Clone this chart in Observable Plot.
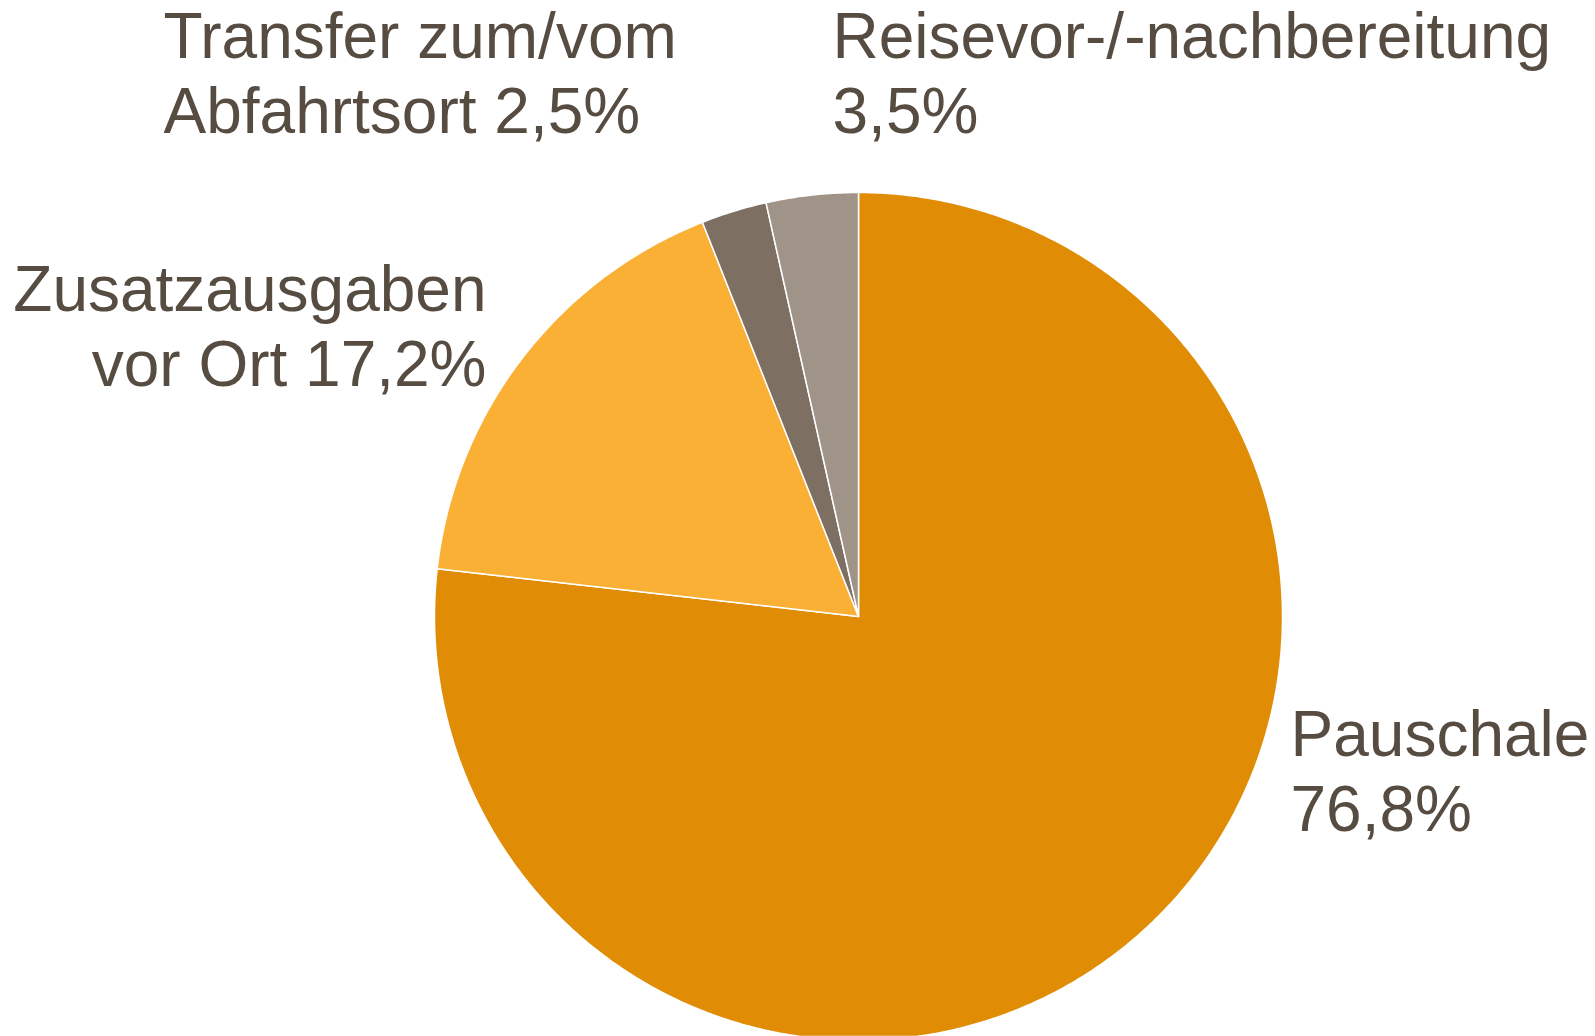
<!DOCTYPE html>
<html>
<head>
<meta charset="utf-8">
<script src="https://cdn.jsdelivr.net/npm/d3@7"></script>
<script src="https://cdn.jsdelivr.net/npm/@observablehq/plot@0.6"></script>
<style>
  html, body { margin: 0; padding: 0; background: #ffffff; }
  #chart svg { display: block; }
</style>
</head>
<body>
<div id="chart"></div>
<script>
// ---- Data ----
const categories = ["Pauschale", "Zusatzausgaben vor Ort", "Transfer zum/vom Abfahrtsort", "Reisevor-/-nachbereitung"];
const shares = [76.8, 17.2, 2.5, 3.5];
const labelTexts = ["Pauschale\n76,8%", "Zusatzausgaben\nvor Ort 17,2%", "Transfer zum/vom\nAbfahrtsort 2,5%", "Reisevor-/-nachbereitung\n3,5%"];
const colors = ["#E08C05", "#FAAF35", "#7D6F62", "#A09488"];

// ---- Layout (pixels) ----
const W = 1595, H = 1036;
const cx = 858, cy = 616, R = 424;
const labelLayout = [
  {x: 1290, y: 702, anchor: "start"},
  {x: 486, y: 257, anchor: "end"},
  {x: 163, y: 4, anchor: "start"},
  {x: 832, y: 4, anchor: "start"}
];

const data = categories.map((c, i) => ({category: c, value: shares[i], label: labelTexts[i], color: colors[i]}));
const arcs = d3.pie().value(d => d.value).sort(null).startAngle(0).endAngle(2 * Math.PI)(data);

function slicePolygon(a) {
  const pts = [[cx, cy]];
  const n = Math.max(4, Math.ceil((a.endAngle - a.startAngle) / (Math.PI / 360)));
  for (let k = 0; k <= n; k++) {
    const t = a.startAngle + (a.endAngle - a.startAngle) * k / n;
    pts.push([cx + R * Math.sin(t), cy - R * Math.cos(t)]);
  }
  pts.push([cx, cy]);
  return {type: "Feature", properties: {category: a.data.category, color: a.data.color}, geometry: {type: "Polygon", coordinates: [pts]}};
}
const slices = arcs.map(slicePolygon);

const labels = data.map((d, i) => ({...d, ...labelLayout[i]}));

const chart = Plot.plot({
  width: W,
  height: H,
  margin: 0,
  projection: {type: "identity"},
  style: {fontFamily: "'Liberation Sans', Arial, sans-serif", background: "#ffffff"},
  marks: [
    Plot.geo(slices, {fill: d => d.properties.color, stroke: "#ffffff", strokeWidth: 1.5}),
    Plot.text(labels.filter(d => d.anchor === "start"), {
      x: "x", y: "y", text: "label", textAnchor: "start", lineAnchor: "top",
      fontSize: 64, lineHeight: 1.17, fill: "#574C42"
    }),
    Plot.text(labels.filter(d => d.anchor === "end"), {
      x: "x", y: "y", text: "label", textAnchor: "end", lineAnchor: "top",
      fontSize: 64, lineHeight: 1.17, fill: "#574C42"
    })
  ]
});
document.getElementById("chart").appendChild(chart);
</script>
</body>
</html>
